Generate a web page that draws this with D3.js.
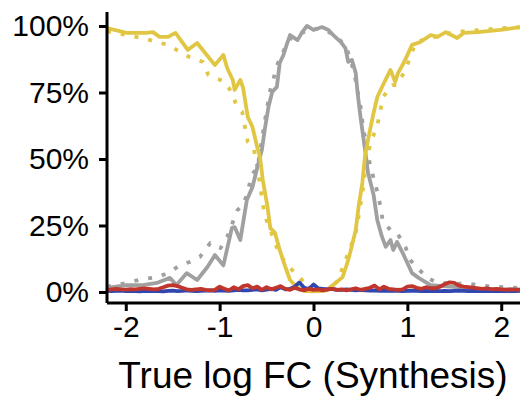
<!DOCTYPE html>
<html><head><meta charset="utf-8">
<script src="https://cdn.jsdelivr.net/npm/d3@7"></script>
<style>body{margin:0;background:#fff}svg{display:block}</style>
</head><body>
<script>
const xTicks = [-2, -1, 0, 1, 2];
const yTicks = [0, 0.25, 0.5, 0.75, 1];
const yTickLabels = ["0%", "25%", "50%", "75%", "100%"];
const xTitle = "True log FC (Synthesis)";

const yellowSolid = [[-2.2,0.992],[-1.99,0.974],[-1.78,0.974],[-1.71,0.977],[-1.64,0.959],[-1.55,0.959],[-1.47,0.974],[-1.34,0.91],[-1.24,0.936],[-1.18,0.91],[-1.05,0.853],[-0.96,0.891],[-0.92,0.842],[-0.86,0.797],[-0.84,0.76],[-0.78,0.797],[-0.75,0.767],[-0.70,0.658],[-0.65,0.62],[-0.60,0.545],[-0.57,0.508],[-0.54,0.421],[-0.49,0.32],[-0.46,0.24],[-0.41,0.222],[-0.36,0.158],[-0.30,0.094],[-0.25,0.045],[-0.20,0.026],[-0.14,0.008],[-0.08,0.003],[0.0,0.002],[0.08,0.003],[0.14,0.006],[0.18,0.019],[0.21,0.026],[0.31,0.056],[0.36,0.109],[0.39,0.147],[0.45,0.233],[0.48,0.32],[0.52,0.41],[0.55,0.515],[0.58,0.571],[0.64,0.673],[0.68,0.733],[0.74,0.778],[0.82,0.835],[0.87,0.79],[0.90,0.823],[0.96,0.861],[1.01,0.898],[1.05,0.929],[1.14,0.94],[1.25,0.966],[1.32,0.959],[1.41,0.977],[1.53,0.955],[1.60,0.974],[1.75,0.977],[1.99,0.985],[2.2,0.996]];

const yellowDotted = [[-2.2,0.98],[-1.99,0.966],[-1.83,0.955],[-1.55,0.929],[-1.42,0.902],[-1.32,0.883],[-1.18,0.865],[-1.12,0.816],[-0.94,0.79],[-0.87,0.748],[-0.81,0.692],[-0.76,0.677],[-0.73,0.62],[-0.70,0.564],[-0.64,0.545],[-0.60,0.47],[-0.52,0.288],[-0.36,0.139],[-0.20,0.071],[-0.14,0.053],[-0.05,0.01],[0.05,0.005],[0.18,0.01],[0.25,0.04],[0.31,0.09],[0.45,0.22],[0.52,0.37],[0.57,0.51],[0.62,0.571],[0.68,0.627],[0.71,0.677],[0.74,0.733],[0.84,0.778],[0.89,0.778],[0.98,0.835],[1.09,0.94],[1.49,0.977],[2.02,0.992],[2.2,0.995]];

const graySolid = [[-2.2,0.015],[-1.99,0.026],[-1.82,0.026],[-1.67,0.034],[-1.53,0.053],[-1.46,0.026],[-1.35,0.071],[-1.24,0.045],[-1.13,0.094],[-1.05,0.139],[-0.96,0.10],[-0.87,0.24],[-0.84,0.244],[-0.78,0.195],[-0.71,0.346],[-0.65,0.395],[-0.60,0.466],[-0.55,0.534],[-0.52,0.609],[-0.48,0.695],[-0.44,0.752],[-0.39,0.771],[-0.36,0.861],[-0.32,0.891],[-0.28,0.936],[-0.25,0.966],[-0.17,0.947],[-0.12,0.977],[-0.07,1.0],[0.0,0.985],[0.09,0.996],[0.16,0.985],[0.21,0.966],[0.29,0.94],[0.34,0.917],[0.37,0.865],[0.41,0.872],[0.45,0.823],[0.47,0.748],[0.50,0.66],[0.53,0.583],[0.55,0.534],[0.58,0.45],[0.64,0.365],[0.68,0.27],[0.73,0.207],[0.77,0.17],[0.82,0.195],[0.85,0.158],[0.89,0.188],[0.95,0.147],[1.00,0.109],[1.05,0.071],[1.12,0.053],[1.19,0.038],[1.25,0.026],[1.35,0.023],[1.49,0.019],[1.64,0.015],[1.8,0.012],[2.0,0.01],[2.2,0.01]];

const grayDotted = [[-2.2,0.02],[-1.99,0.034],[-1.82,0.049],[-1.66,0.056],[-1.53,0.075],[-1.42,0.101],[-1.32,0.113],[-1.21,0.132],[-1.10,0.184],[-0.99,0.165],[-0.92,0.207],[-0.81,0.308],[-0.75,0.327],[-0.70,0.376],[-0.66,0.44],[-0.60,0.466],[-0.57,0.523],[-0.52,0.64],[-0.46,0.76],[-0.38,0.86],[-0.30,0.92],[-0.23,0.96],[-0.12,0.975],[0.0,0.99],[0.12,0.985],[0.25,0.96],[0.35,0.92],[0.43,0.83],[0.51,0.68],[0.53,0.61],[0.57,0.55],[0.60,0.48],[0.68,0.376],[0.71,0.327],[0.74,0.263],[0.84,0.226],[0.89,0.222],[0.98,0.169],[1.03,0.12],[1.21,0.053],[1.33,0.034],[1.67,0.03],[1.9,0.02],[2.2,0.015]];

const gridX = d3.range(-2.2, 2.2001, 0.05);
const redValues = [0.008,0.010,0.012,0.010,0.009,0.011,0.010,0.012,0.014,0.012,
 0.010,0.012,0.018,0.024,0.026,0.022,0.016,0.010,0.008,0.010,
 0.012,0.008,0.006,0.008,0.020,0.012,0.006,0.018,0.010,0.022,
 0.026,0.014,0.020,0.008,0.018,0.010,0.016,0.022,0.012,0.008,
 0.016,0.010,0.006,0.012,0.008,0.010,0.006,0.010,0.012,0.008,
 0.010,0.006,0.010,0.014,0.008,0.012,0.016,0.024,0.010,0.020,
 0.012,0.010,0.008,0.010,0.020,0.022,0.016,0.012,0.018,0.014,
 0.014,0.020,0.030,0.036,0.034,0.024,0.020,0.018,0.016,0.014,
 0.012,0.014,0.010,0.012,0.010,0.008,0.010,0.009,0.008];
const blueValues = [0.004,0.003,0.004,0.005,0.003,0.004,0.003,0.002,0.004,0.003,
 0.004,0.003,0.002,0.004,0.005,0.003,0.004,0.006,0.004,0.003,
 0.004,0.005,0.006,0.004,0.006,0.005,0.004,0.006,0.008,0.006,
 0.006,0.008,0.010,0.006,0.009,0.012,0.008,0.018,0.010,0.012,
 0.020,0.036,0.016,0.012,0.028,0.014,0.012,0.010,0.012,0.008,
 0.008,0.010,0.008,0.006,0.008,0.006,0.005,0.006,0.004,0.005,
 0.004,0.005,0.004,0.003,0.004,0.005,0.004,0.003,0.004,0.003,
 0.004,0.003,0.004,0.003,0.004,0.005,0.004,0.003,0.004,0.003,
 0.004,0.003,0.004,0.003,0.004,0.003,0.004,0.003,0.004];

const W = 520, H = 396;
const svg = d3.select("body").append("svg").attr("width", W).attr("height", H);
const x = d3.scaleLinear().domain([-2.2, 2.2]).range([107, 520]);
const y = d3.scaleLinear().domain([-0.0414, 1.0526]).range([303, 12]);

const defs = svg.append("defs");
defs.append("clipPath").attr("id","clip").append("rect").attr("x",107).attr("y",0).attr("width",413).attr("height",303);

const line = d3.line().x(d => x(d[0])).y(d => y(d[1]));
const g = svg.append("g").attr("clip-path","url(#clip)");
const YEL = "#e1c643", GRAY = "#a0a0a0", RED = "#c0362c", BLUE = "#3246b0";
const series = [
  {d: grayDotted, c: GRAY, dash: "4,10"},
  {d: yellowDotted, c: YEL, dash: "4,10"},
  {d: graySolid, c: GRAY},
  {d: yellowSolid, c: YEL},
  {d: gridX.map((v,i)=>[v, blueValues[i]]), c: BLUE},
  {d: gridX.map((v,i)=>[v, redValues[i]]), c: RED}
];
series.forEach(s => {
  g.append("path").datum(s.d).attr("d", line)
    .attr("fill","none").attr("stroke", s.c).attr("stroke-width", 3.8)
    .attr("stroke-linejoin","round")
    .attr("stroke-dasharray", s.dash || null);
});

const font = "'Liberation Sans', Arial, Helvetica, sans-serif";
const xAxis = svg.append("g").attr("transform","translate(0,303)")
  .call(d3.axisBottom(x).tickValues(xTicks).tickSize(8).tickPadding(5).tickFormat(d3.format("d")));
const yAxis = svg.append("g").attr("transform","translate(107,0)")
  .call(d3.axisLeft(y).tickValues(yTicks).tickSize(8).tickPadding(10).tickFormat((d,i)=>yTickLabels[i]));
[xAxis, yAxis].forEach(a => {
  a.select(".domain").attr("stroke","#000").attr("stroke-width",3);
  a.selectAll(".tick line").attr("stroke","#000").attr("stroke-width",3);
  a.selectAll("text").attr("fill","#000").style("font-family", font).style("font-size","30px");
});
xAxis.select(".domain").attr("d","M107,0H520");
yAxis.select(".domain").attr("d","M0,12V303");
xAxis.selectAll("text").text(d => d < 0 ? "-" + Math.abs(d) : d);

svg.append("text").attr("x", 313).attr("y", 388).attr("text-anchor","middle")
  .style("font-family", font).style("font-size","37px").attr("fill","#000").text(xTitle);
</script>
</body></html>
